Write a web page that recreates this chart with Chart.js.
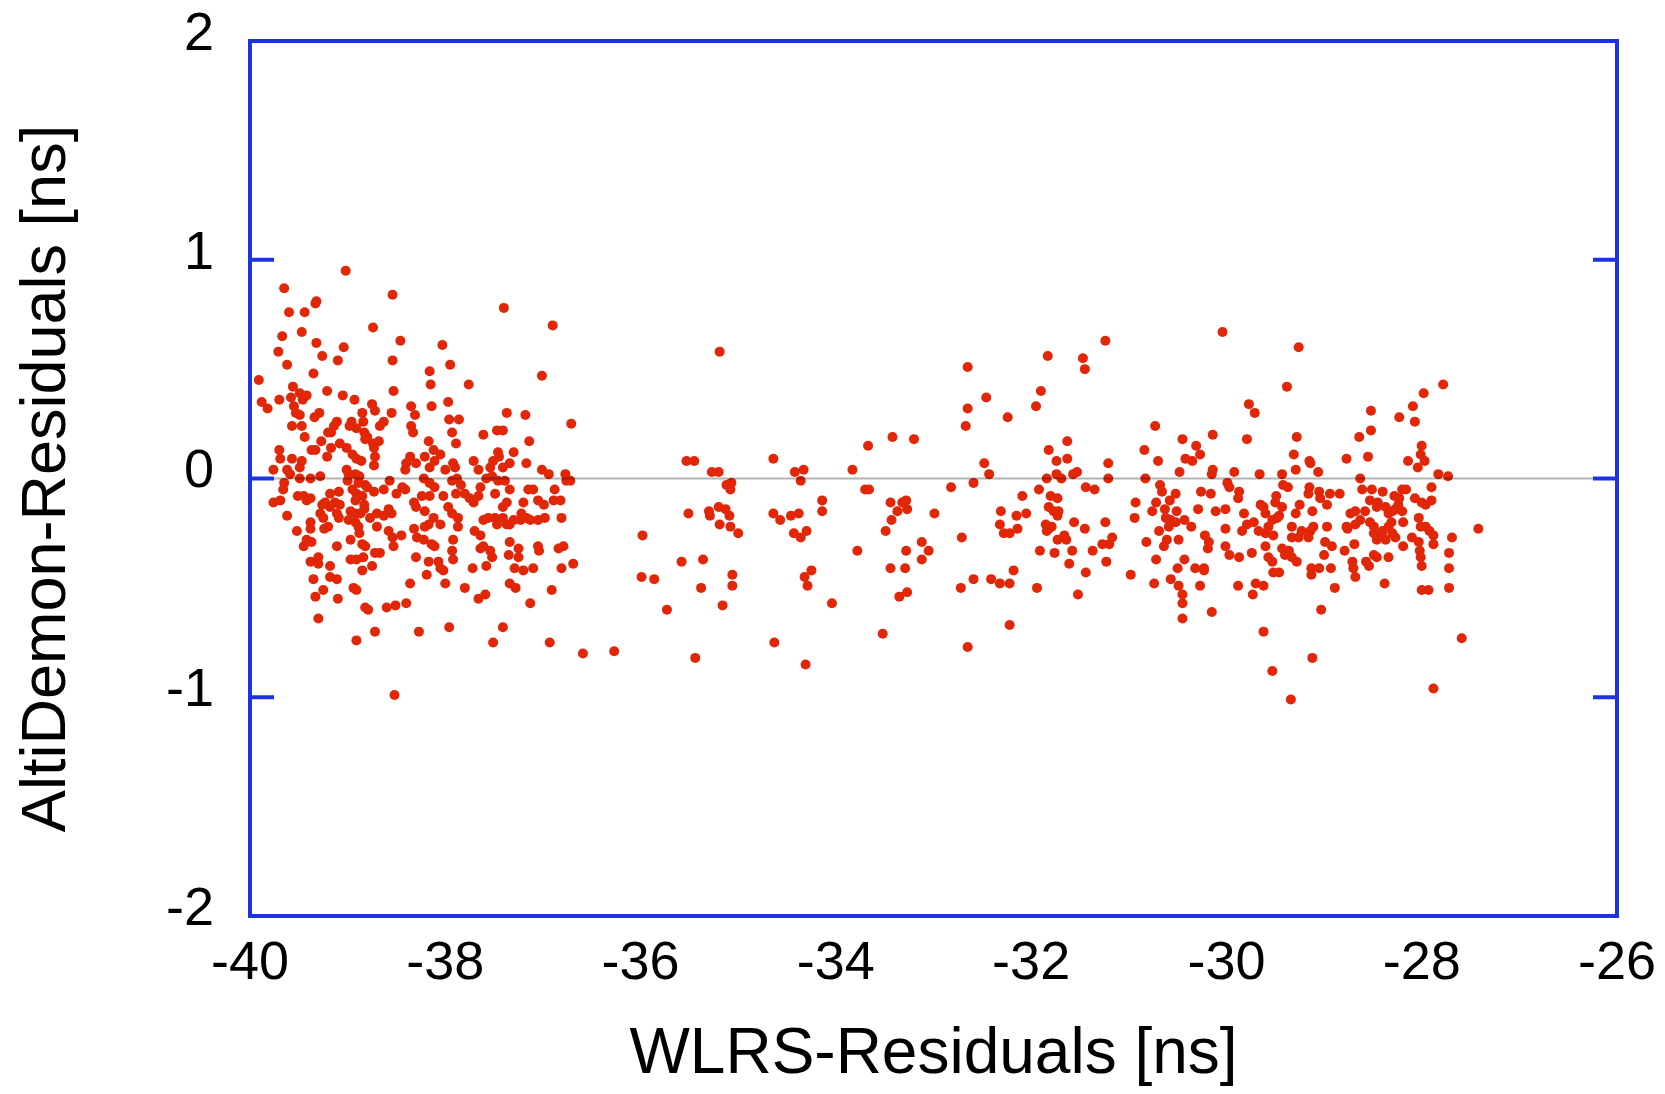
<!DOCTYPE html>
<html>
<head>
<meta charset="utf-8">
<script src="https://cdn.jsdelivr.net/npm/chart.js@4.4.1/dist/chart.umd.min.js"></script>
<style>
  html, body { margin: 0; padding: 0; background: #fff; }
  #wrap { width: 1665px; height: 1094px; }
</style>
</head>
<body>
<div id="wrap"><canvas id="chart"></canvas></div>
<script>
// WLRS residuals (x) vs AltiDemon residuals (y), in ns
const wlrsLeft = [
  -39.02,-39.65,-38.54,-39.32,-39.33,-39.60,-39.44,-38.74,-39.67,-39.47,
  -38.46,-39.32,-39.04,-39.71,-39.26,-39.10,-38.54,-39.62,-39.35,-39.91,
  -39.21,-38.53,-39.56,-39.49,-39.42,-39.46,-39.05,-38.93,-39.88,-39.82,
  -39.70,-39.58,-39.55,-38.75,-38.72,-38.35,-39.53,-39.49,-39.29,-39.34,
  -38.85,-38.55,-38.31,-39.11,-39.14,-38.96,-38.84,-38.63,-38.67,-38.98,
  -39.57,-39.47,-39.17,-39.20,-38.91,-38.83,-38.80,-38.35,-38.33,-39.44,
  -39.27,-38.82,-38.74,-38.68,-39.08,-39.01,-39.17,-38.73,-39.33,-39.37,
  -39.70,-39.69,-39.57,-39.21,-38.95,-38.91,-38.86,-38.72,-38.73,-39.47,
  -39.49,-38.36,-38.40,-38.41,-38.30,-39.76,-39.62,-39.59,-39.49,-39.38,
  -39.28,-39.01,-38.99,-38.92,-38.88,-39.00,-38.89,-38.82,-38.73,-38.63,
  -38.57,-38.50,-38.44,-38.41,-39.65,-39.66,-39.76,-39.69,-39.51,-39.45,
  -39.42,-39.38,-39.09,-39.18,-38.95,-38.91,-38.85,-38.80,-38.92,-38.83,
  -39.26,-39.23,-39.18,-39.13,-39.08,-39.28,-39.25,-39.11,-38.97,-38.92,
  -38.87,-38.83,-38.77,-38.70,-38.63,-38.58,-38.55,-38.32,-38.30,-39.62,
  -39.38,-39.38,-39.52,-39.24,-39.20,-39.09,-38.99,-38.92,-38.89,-38.88,
  -38.70,-38.58,-38.54,-38.45,-38.32,-38.29,-39.45,-39.42,-39.37,-39.11,
  -38.97,-38.85,-38.82,-38.72,-38.67,-38.53,-38.30,-39.38,-39.30,-39.30,
  -39.18,-38.97,-38.91,-38.84,-38.85,-38.75,-39.35,-39.18,-39.11,-38.94,
  -38.91,-38.36,-39.25,-39.33,-39.10,-38.82,-38.79,-38.60,-38.51,-38.40,
  -39.30,-38.72,-38.91,-38.27,-38.52,
  -37.40,-36.90,-38.03,-37.95,-38.16,-38.15,-37.76,-37.01,-38.14,-37.97,
  -37.96,-37.86,-37.37,-37.18,-36.71,-37.93,-37.61,-37.47,-37.41,-37.89,
  -37.14,-38.17,-38.12,-38.05,-38.21,-38.16,-38.11,-38.00,-37.92,-37.90,
  -37.71,-37.66,-37.51,-37.46,-37.45,-37.30,-37.34,-37.54,-37.41,-37.17,
  -37.01,-36.94,-36.77,-36.76,-36.72,-37.93,-37.88,-37.84,-38.22,-38.16,
  -38.11,-38.02,-38.24,-38.16,-37.89,-37.80,-37.75,-37.71,-37.66,-37.64,
  -37.58,-37.52,-37.46,-37.39,-37.34,-37.49,-37.41,-37.37,-37.20,-37.15,
  -37.10,-37.05,-36.99,-36.88,-36.89,-36.82,-38.21,-38.17,-38.12,-38.05,
  -38.21,-38.22,-37.97,-37.93,-37.87,-37.87,-37.70,-37.64,-37.61,-37.56,
  -37.49,-37.47,-37.41,-37.37,-37.34,-37.30,-37.22,-37.23,-37.17,-37.13,
  -37.05,-36.98,-36.81,-37.92,-37.93,-37.92,-38.14,-38.11,-38.17,
  -38.07,-38.05,-38.02,-38.00,-38.19,-37.64,-37.61,-37.54,-37.52,-37.34,
  -37.35,-37.25,-37.25,-37.05,-37.04,-36.84,-36.79,-37.72,-37.58,-37.29,
  -37.20,-37.10,-36.81,-36.69,-37.80,-37.66,-37.59,-37.34,-37.28,-37.13,
  -36.91,-37.96,-37.51,-37.41,-36.93,-36.59
];
const altiLeft = [
  0.95,0.87,0.84,0.81,0.80,0.76,0.76,0.69,0.65,0.67,
  0.63,0.62,0.60,0.58,0.56,0.54,0.54,0.52,0.48,0.45,
  0.40,0.40,0.42,0.39,0.38,0.36,0.38,0.36,0.35,0.32,
  0.36,0.37,0.33,0.34,0.31,0.33,0.30,0.29,0.30,0.28,
  0.30,0.30,0.29,0.26,0.24,0.26,0.26,0.26,0.24,0.24,
  0.24,0.24,0.21,0.21,0.23,0.21,0.19,0.24,0.21,0.19,
  0.17,0.18,0.16,0.17,0.16,0.14,0.14,0.14,0.13,0.13,
  0.13,0.09,0.09,0.10,0.11,0.09,0.08,0.10,0.06,0.08,
  0.05,0.10,0.07,0.04,0.07,0.04,0.04,0.02,0.00,0.00,
  0.01,0.04,0.02,0.02,0.01,-0.01,-0.02,-0.03,-0.06,-0.05,
  -0.01,-0.07,-0.04,-0.05,-0.02,-0.05,-0.11,-0.10,-0.08,-0.08,
  -0.10,-0.09,-0.06,-0.07,-0.05,-0.07,-0.08,-0.04,-0.10,-0.12,
  -0.12,-0.11,-0.13,-0.11,-0.12,-0.16,-0.18,-0.16,-0.15,-0.16,
  -0.16,-0.14,-0.18,-0.16,-0.17,-0.14,-0.16,-0.11,-0.13,-0.17,
  -0.20,-0.23,-0.24,-0.23,-0.22,-0.18,-0.19,-0.20,-0.22,-0.25,
  -0.22,-0.24,-0.27,-0.26,-0.23,-0.27,-0.31,-0.28,-0.29,-0.31,
  -0.28,-0.30,-0.31,-0.34,-0.34,-0.31,-0.36,-0.38,-0.36,-0.39,
  -0.40,-0.37,-0.37,-0.36,-0.42,-0.40,-0.46,-0.45,-0.46,-0.50,
  -0.51,-0.48,-0.51,-0.54,-0.55,-0.59,-0.60,-0.59,-0.58,-0.57,
  -0.64,-0.70,-0.74,-0.70,-0.99,
  0.78,0.70,0.61,0.52,0.49,0.43,0.43,0.47,0.33,0.35,
  0.27,0.27,0.30,0.29,0.25,0.21,0.20,0.22,0.22,0.16,
  0.17,0.17,0.13,0.11,0.10,0.05,0.08,0.04,0.07,0.05,
  0.08,0.04,0.08,0.12,0.10,0.12,0.07,0.05,0.05,0.07,
  0.04,0.02,0.02,-0.01,-0.01,-0.01,0.00,-0.03,0.00,-0.02,
  -0.04,-0.08,-0.08,-0.08,-0.07,-0.07,-0.09,-0.11,-0.08,-0.04,
  0.00,0.01,-0.01,-0.01,-0.05,-0.07,-0.13,-0.11,-0.11,-0.05,
  -0.05,-0.10,-0.12,-0.05,-0.10,-0.10,-0.15,-0.21,-0.18,-0.21,
  -0.22,-0.28,-0.13,-0.16,-0.18,-0.22,-0.24,-0.26,-0.19,-0.18,
  -0.18,-0.21,-0.18,-0.21,-0.21,-0.19,-0.16,-0.19,-0.18,-0.19,
  -0.19,-0.18,-0.18,-0.28,-0.33,-0.37,-0.30,-0.31,-0.38,
  -0.38,-0.41,-0.42,-0.48,-0.44,-0.32,-0.31,-0.33,-0.36,-0.29,
  -0.35,-0.32,-0.36,-0.31,-0.33,-0.32,-0.31,-0.41,-0.40,-0.41,
  -0.42,-0.41,-0.41,-0.39,-0.50,-0.55,-0.53,-0.48,-0.50,-0.57,
  -0.51,-0.68,-0.75,-0.68,-0.75,-0.80
];

const wlrsMid = [
  -35.19,-36.27,-35.98,-35.99,-35.86,-35.73,-35.53,-35.45,-35.51,-35.58,
  -35.36,-35.38,-35.44,-35.27,-35.20,-35.12,-35.07,-35.08,-35.30,-35.29,
  -35.20,-35.13,-35.09,-35.19,-35.08,-35.00,-35.06,-35.06,-35.16,-34.64,
  -34.64,-34.57,-34.46,-34.38,-34.43,-34.36,-34.30,-34.42,-34.33,-34.36,
  -34.14,-34.14,-34.32,-34.25,-34.29,-34.04,-34.63,-34.31,-33.83,-33.67,
  -33.42,-33.70,-33.66,-33.44,-33.43,-33.49,-33.78,-33.44,-33.52,
  -33.20,-32.65,-32.46,-32.65,-32.67,-32.24,-31.83,-31.47,-31.45,-31.24,
  -31.90,-31.95,-31.82,-31.63,-31.74,-31.63,-32.48,-32.43,-32.59,-32.82,
  -31.84,-31.74,-31.69,-31.57,-31.53,-31.21,-31.21,-31.44,-31.35,-31.92,
  -32.09,-31.80,-31.73,-31.82,-31.77,-31.72,-31.73,-32.31,-32.15,-32.05,
  -32.32,-32.28,-32.22,-32.14,-31.85,-31.82,-31.79,-31.84,-31.56,-31.45,
  -31.24,-31.73,-31.66,-31.64,-31.58,-31.37,-31.27,-31.20,-31.17,-31.91,
  -31.76,-31.61,-31.23,-31.44,-33.32,-33.28,-33.27,-33.37,-32.99,-33.12,
  -33.28,-33.05,-33.12,-33.29,-32.71,-33.27,-33.35,-32.72,-32.59,-32.41,
  -32.32,-32.22,-32.18,-31.94,-31.52,-32.22,-32.65
];
const altiMid = [
  0.58,-0.79,-0.26,-0.45,-0.46,-0.60,0.08,0.08,-0.16,-0.38,
  -0.37,-0.50,-0.82,0.03,0.03,-0.03,-0.02,-0.05,-0.15,-0.17,
  -0.13,-0.14,-0.17,-0.21,-0.22,-0.25,-0.44,-0.49,-0.58,0.09,
  -0.16,-0.19,-0.17,-0.16,-0.25,-0.27,-0.24,0.03,0.04,-0.01,
  -0.10,-0.15,-0.45,-0.42,-0.49,-0.57,-0.75,-0.85,0.04,0.15,
  0.19,-0.05,-0.05,-0.11,-0.19,-0.24,-0.33,-0.41,-0.71,
  0.18,0.51,0.37,0.32,0.24,0.28,0.56,0.55,0.50,0.63,
  0.40,0.33,0.13,0.17,0.08,0.09,0.07,0.02,-0.02,-0.04,
  0.00,0.02,0.00,0.02,0.03,0.07,0.00,-0.04,-0.05,-0.05,
  -0.08,-0.08,-0.09,-0.13,-0.15,-0.15,-0.17,-0.15,-0.17,-0.16,
  -0.21,-0.25,-0.25,-0.23,-0.21,-0.23,-0.22,-0.24,-0.20,-0.23,
  -0.20,-0.28,-0.26,-0.28,-0.33,-0.33,-0.30,-0.30,-0.27,-0.33,
  -0.34,-0.39,-0.38,-0.43,-0.11,-0.10,-0.14,-0.15,-0.16,-0.29,
  -0.33,-0.33,-0.37,-0.41,-0.27,-0.52,-0.54,-0.50,-0.46,-0.46,
  -0.48,-0.48,-0.42,-0.50,-0.53,-0.67,-0.77
];

const wlrsRight = [
  -30.04,-29.26,-29.38,-29.77,-29.71,-30.73,-30.45,-30.14,-29.79,-29.28,
  -30.84,-30.70,-30.31,-30.27,-30.42,-30.35,-29.31,-30.48,-30.14,-30.15,
  -29.92,-29.66,-29.43,-29.29,-30.83,-30.68,-30.66,-30.52,-30.58,-30.72,
  -30.93,-30.76,-30.94,-30.63,-30.51,-30.62,-30.57,-30.52,-30.59,-30.43,
  -30.36,-30.26,-30.16,-30.29,-30.11,-30.01,-29.99,-29.97,-29.87,-29.88,
  -29.82,-29.79,-29.72,-29.84,-30.01,-29.65,-29.62,-29.60,-29.53,-29.48,
  -29.46,-29.43,-29.49,-29.50,-29.42,-29.37,-29.25,-29.29,-29.33,-29.33,
  -29.26,-29.23,-29.67,-29.60,-29.57,-29.52,-29.60,-29.57,-29.53,-29.43,
  -29.40,-29.36,-29.33,-29.28,-29.74,-29.87,-29.97,-30.01,-30.22,-30.18,
  -30.19,-30.43,-30.50,-30.61,-30.64,-30.69,-30.82,-30.72,-30.49,-30.32,
  -30.23,-30.23,-30.27,-30.74,-30.57,-30.49,-30.45,-30.45,-30.45,-30.98,
  -30.15,-29.88,-29.70,-29.62,-29.73,-29.52,-29.46,-29.62,-29.53,-29.34,
  -27.78,-27.98,-28.09,-28.07,-28.52,-28.23,-28.52,-28.64,-28.00,-28.01,
  -27.97,-28.04,-28.14,-28.55,-28.77,-29.15,-29.14,-29.06,-27.83,-27.73,
  -28.63,-29.15,-29.05,-29.04,-29.16,-28.94,-28.84,-28.97,-29.12,-28.61,
  -28.51,-28.40,-28.20,-28.16,-27.90,-28.28,-28.23,-28.53,-28.45,-28.46,
  -28.07,-28.00,-27.90,-27.96,-28.68,-28.73,-28.58,-28.63,-28.76,-28.77,
  -28.68,-28.53,-28.49,-28.37,-28.34,-28.30,-28.27,-28.24,-28.20,-28.19,
  -28.31,-28.34,-28.30,-28.41,-28.37,-28.46,-28.49,-28.27,-28.40,-28.03,
  -28.01,-27.96,-27.92,-27.88,-27.88,-28.10,-28.03,-28.19,-28.97,-29.11,
  -29.14,-29.16,-28.99,-28.92,-29.00,-28.79,-28.69,-28.71,-28.70,-28.68,
  -28.57,-28.54,-28.49,-28.46,-28.34,-28.38,-28.02,-28.01,-28.00,-27.69,
  -27.72,-27.72,-27.72,-28.00,-27.93,-29.13,-29.05,-29.13,-28.93,-28.89,
  -29.03,-29.12,-27.59,-27.88,-27.42
];
const altiRight = [
  0.67,0.60,0.42,0.34,0.30,0.24,0.18,0.20,0.18,0.19,
  0.13,0.08,0.15,0.11,0.09,0.08,0.11,0.03,0.04,0.02,
  0.03,0.02,0.02,0.04,0.00,-0.03,-0.06,-0.07,-0.10,-0.11,
  -0.11,-0.15,-0.18,-0.14,-0.15,-0.18,-0.19,-0.20,-0.22,-0.19,
  -0.22,-0.06,-0.07,-0.14,-0.15,-0.14,-0.02,-0.04,-0.06,-0.09,
  -0.16,-0.21,-0.20,-0.24,-0.23,-0.12,-0.13,-0.16,-0.19,-0.18,
  -0.17,-0.13,-0.08,-0.11,-0.03,-0.04,-0.12,-0.16,-0.22,-0.27,
  -0.27,-0.24,-0.24,-0.25,-0.22,-0.26,-0.31,-0.36,-0.38,-0.32,
  -0.35,-0.33,-0.36,-0.38,-0.34,-0.36,-0.35,-0.31,-0.26,-0.29,
  -0.32,-0.37,-0.41,-0.28,-0.31,-0.24,-0.29,-0.37,-0.28,-0.41,
  -0.42,-0.41,-0.49,-0.48,-0.46,-0.49,-0.53,-0.57,-0.64,-0.44,
  -0.61,-0.49,-0.48,-0.49,-0.53,-0.43,-0.43,-0.70,-0.88,-1.01,
  0.43,0.39,0.33,0.26,0.31,0.28,0.22,0.19,0.15,0.11,
  0.08,0.05,0.08,0.10,0.09,0.08,0.07,0.03,0.02,0.01,
  0.00,-0.04,-0.06,-0.09,-0.07,-0.07,-0.07,-0.12,-0.15,-0.05,
  -0.05,-0.06,-0.05,-0.05,-0.04,-0.08,-0.09,-0.10,-0.11,-0.13,
  -0.09,-0.11,-0.10,-0.12,-0.15,-0.16,-0.15,-0.19,-0.23,-0.22,
  -0.21,-0.20,-0.22,-0.13,-0.16,-0.15,-0.14,-0.12,-0.15,-0.20,
  -0.20,-0.22,-0.25,-0.25,-0.28,-0.28,-0.25,-0.27,-0.24,-0.18,
  -0.22,-0.22,-0.24,-0.26,-0.30,-0.27,-0.29,-0.31,-0.22,-0.22,
  -0.24,-0.27,-0.29,-0.31,-0.35,-0.33,-0.30,-0.38,-0.41,-0.45,
  -0.38,-0.40,-0.35,-0.36,-0.36,-0.48,-0.33,-0.36,-0.40,-0.27,
  -0.34,-0.41,-0.50,-0.51,-0.51,-0.41,-0.41,-0.44,-0.41,-0.50,
  -0.60,-0.82,-0.73,-0.96,-0.23
];

const xMin = -40, xMax = -26, xStep = 2;
const yMin = -2, yMax = 2, yStep = 1;
const yFrameTicks = [-1, 0, 1];
const zeroLineAt = 0;

const BLUE = '#1d33e3';
const RED = 'rgb(226,38,8)';
const FONT = '"Liberation Sans", Arial, Helvetica, sans-serif';

function toPoints(xs, ys) {
  return xs.map((x, i) => ({ x: x, y: ys[i] }));
}
const points = [].concat(
  toPoints(wlrsLeft, altiLeft),
  toPoints(wlrsMid, altiMid),
  toPoints(wlrsRight, altiRight)
);

// blue box around the plot, inward ticks on both sides, grey zero line on top
const framePlugin = {
  id: 'frame',
  afterDatasetsDraw(chart) {
    const { ctx, chartArea: a, scales } = chart;
    ctx.save();
    const y0 = scales.y.getPixelForValue(zeroLineAt);
    ctx.strokeStyle = 'rgba(0,0,0,0.3)';
    ctx.lineWidth = 2;
    ctx.beginPath();
    ctx.moveTo(a.left, y0);
    ctx.lineTo(a.right, y0);
    ctx.stroke();

    ctx.strokeStyle = BLUE;
    ctx.lineWidth = 4;
    ctx.strokeRect(a.left, a.top, a.right - a.left, a.bottom - a.top);
    ctx.beginPath();
    yFrameTicks.forEach(v => {
      const py = scales.y.getPixelForValue(v);
      ctx.moveTo(a.left, py); ctx.lineTo(a.left + 24, py);
      ctx.moveTo(a.right, py); ctx.lineTo(a.right - 24, py);
    });
    ctx.stroke();
    ctx.restore();
  }
};

new Chart(document.getElementById('chart'), {
  type: 'scatter',
  data: {
    datasets: [{
      data: points,
      backgroundColor: RED,
      borderWidth: 0,
      pointRadius: 5,
      pointHoverRadius: 5
    }]
  },
  options: {
    responsive: true,
    maintainAspectRatio: false,
    animation: false,
    events: [],
    layout: { padding: { top: 41, right: 48, left: 0, bottom: 0 } },
    plugins: {
      legend: { display: false },
      tooltip: { enabled: false }
    },
    scales: {
      x: {
        type: 'linear',
        min: xMin,
        max: xMax,
        afterFit: s => {
          s.height = 178;
          s.paddingLeft = 0;
          s.paddingRight = 0;
        },
        ticks: {
          stepSize: xStep,
          color: '#000',
          padding: 16,
          maxRotation: 0,
          font: { family: FONT, size: 54 }
        },
        grid: { display: false, drawTicks: false },
        border: { display: false },
        title: {
          display: true,
          text: 'WLRS-Residuals [ns]',
          color: '#000',
          font: { family: FONT, size: 64 },
          padding: { top: 0, bottom: 0 }
        }
      },
      y: {
        type: 'linear',
        min: yMin,
        max: yMax,
        afterFit: s => {
          s.width = 250;
          s.paddingTop = 0;
          s.paddingBottom = 0;
        },
        ticks: {
          stepSize: yStep,
          color: '#000',
          padding: 36,
          labelOffset: -6,
          font: { family: FONT, size: 54 }
        },
        grid: { display: false, drawTicks: false },
        border: { display: false },
        title: {
          display: true,
          text: 'AltiDemon-Residuals [ns]',
          color: '#000',
          font: { family: FONT, size: 63 },
          padding: { top: 10, bottom: 0 }
        }
      }
    }
  },
  plugins: [framePlugin]
});
</script>
</body>
</html>
